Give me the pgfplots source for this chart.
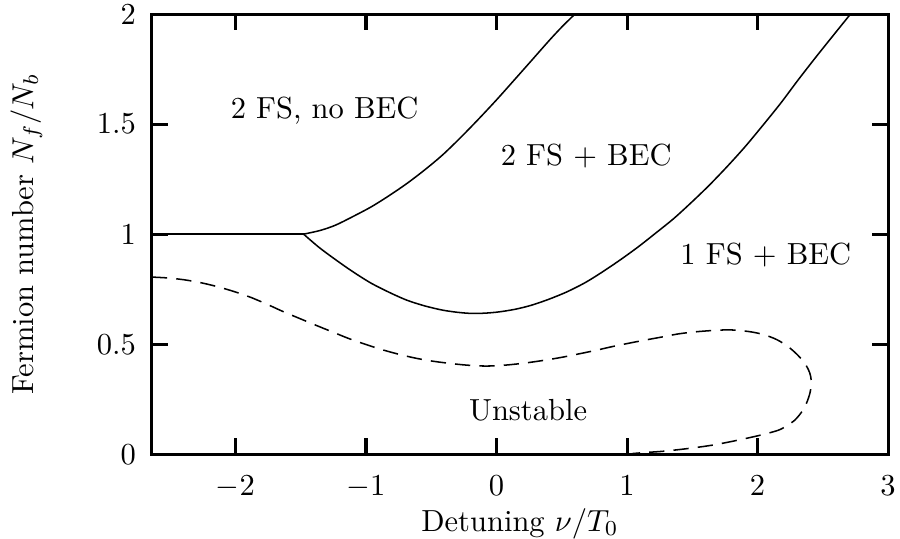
\documentclass[border=0pt]{standalone}
\usepackage{pgfplots}
\pgfplotsset{compat=1.18}

% phase boundaries
\pgfplotstableread{
x y
-2.64 1.0
-1.478 1.0
}\flatline
\pgfplotstableread{
x y
-1.478 1.000
-1.350 1.017
-1.233 1.041
-1.100 1.080
-0.960 1.124
-0.820 1.176
-0.687 1.230
-0.550 1.292
-0.415 1.359
-0.280 1.436
-0.142 1.520
 0.000 1.610
 0.131 1.697
 0.270 1.790
 0.404 1.880
 0.500 1.941
 0.601 2.000
}\upperbranch
\pgfplotstableread{
x y
-1.478 1.000
-1.360 0.940
-1.233 0.884
-1.100 0.829
-0.960 0.777
-0.820 0.735
-0.687 0.700
-0.550 0.674
-0.415 0.655
-0.300 0.645
-0.196 0.640
-0.090 0.641
 0.022 0.647
 0.145 0.659
 0.267 0.677
 0.400 0.704
 0.540 0.738
 0.680 0.780
 0.813 0.829
 0.950 0.884
 1.085 0.942
 1.220 1.005
 1.358 1.071
 1.500 1.148
 1.631 1.223
 1.770 1.309
 1.904 1.397
 2.040 1.494
 2.176 1.594
 2.310 1.700
 2.449 1.806
 2.580 1.903
 2.712 2.000
}\lowerbranch
\pgfplotstableread{
x y
-2.640 0.805
-2.520 0.801
-2.397 0.793
-2.270 0.780
-2.142 0.762
-2.015 0.740
-1.888 0.714
-1.760 0.682
-1.634 0.648
-1.505 0.616
-1.379 0.585
-1.250 0.554
-1.124 0.524
-0.997 0.498
-0.870 0.474
-0.740 0.453
-0.615 0.436
-0.490 0.423
-0.361 0.413
-0.230 0.405
-0.107 0.401
 0.000 0.402
 0.122 0.408
 0.250 0.417
 0.377 0.428
 0.505 0.441
 0.631 0.456
 0.760 0.472
 0.886 0.489
 1.010 0.504
 1.140 0.519
 1.270 0.533
 1.395 0.547
 1.520 0.556
 1.649 0.562
 1.760 0.565
 1.853 0.563
 1.960 0.555
 2.056 0.542
 2.150 0.520
 2.234 0.489
 2.305 0.452
 2.362 0.413
 2.398 0.372
 2.412 0.330
 2.402 0.280
 2.374 0.231
 2.335 0.190
 2.285 0.155
 2.225 0.130
 2.158 0.109
 2.030 0.088
 1.904 0.071
 1.775 0.055
 1.649 0.041
 1.520 0.030
 1.395 0.021
 1.265 0.013
 1.140 0.008
 1.038 0.003
}\unstableline

\begin{document}
\begin{tikzpicture}
\begin{axis}[
  scale only axis,
  width=241.3pt, height=144.3pt,
  xmin=-2.64, xmax=3,
  ymin=0, ymax=2,
  xtick={-2,-1,0,1,2,3},
  ytick={0,0.5,1,1.5,2},
  yticklabels={0,0.5,1,1.5,2},
  tick align=inside,
  major tick length=5.2pt,
  axis line style={line width=1pt},
  every tick/.style={black,line width=1pt},
  xticklabel style={yshift=-3.6pt},
  yticklabel style={xshift=-1.7pt},
  xlabel={Detuning $\nu/T_0$},
  ylabel={Fermion number $N_f/N_b$},
  xlabel style={at={(axis description cs:0.5,-0.157)},anchor=center},
  ylabel style={at={(axis description cs:-0.1705,0.5)},anchor=center},
  clip=true,
]
\addplot[black,line width=0.5pt] table {\flatline};
\addplot[black,line width=0.5pt,smooth] table {\upperbranch};
\addplot[black,line width=0.5pt,smooth] table {\lowerbranch};
\addplot[black,line width=0.5pt,dash pattern=on 5pt off 3pt,smooth] table {\unstableline};

\node at (axis cs:-1.317,1.56) {2 FS, no BEC};
\node at (axis cs:0.687,1.354) {2 FS $+$ BEC};
\node at (axis cs:2.063,0.907) {1 FS $+$ BEC};
\node at (axis cs:0.242,0.2) {Unstable};
\end{axis}
\pgfresetboundingbox
\path ([xshift=-49.8pt,yshift=-27.5pt]current axis.south west)
  rectangle ([xshift=3.9pt,yshift=4.6pt]current axis.north east);
\end{tikzpicture}
\end{document}
